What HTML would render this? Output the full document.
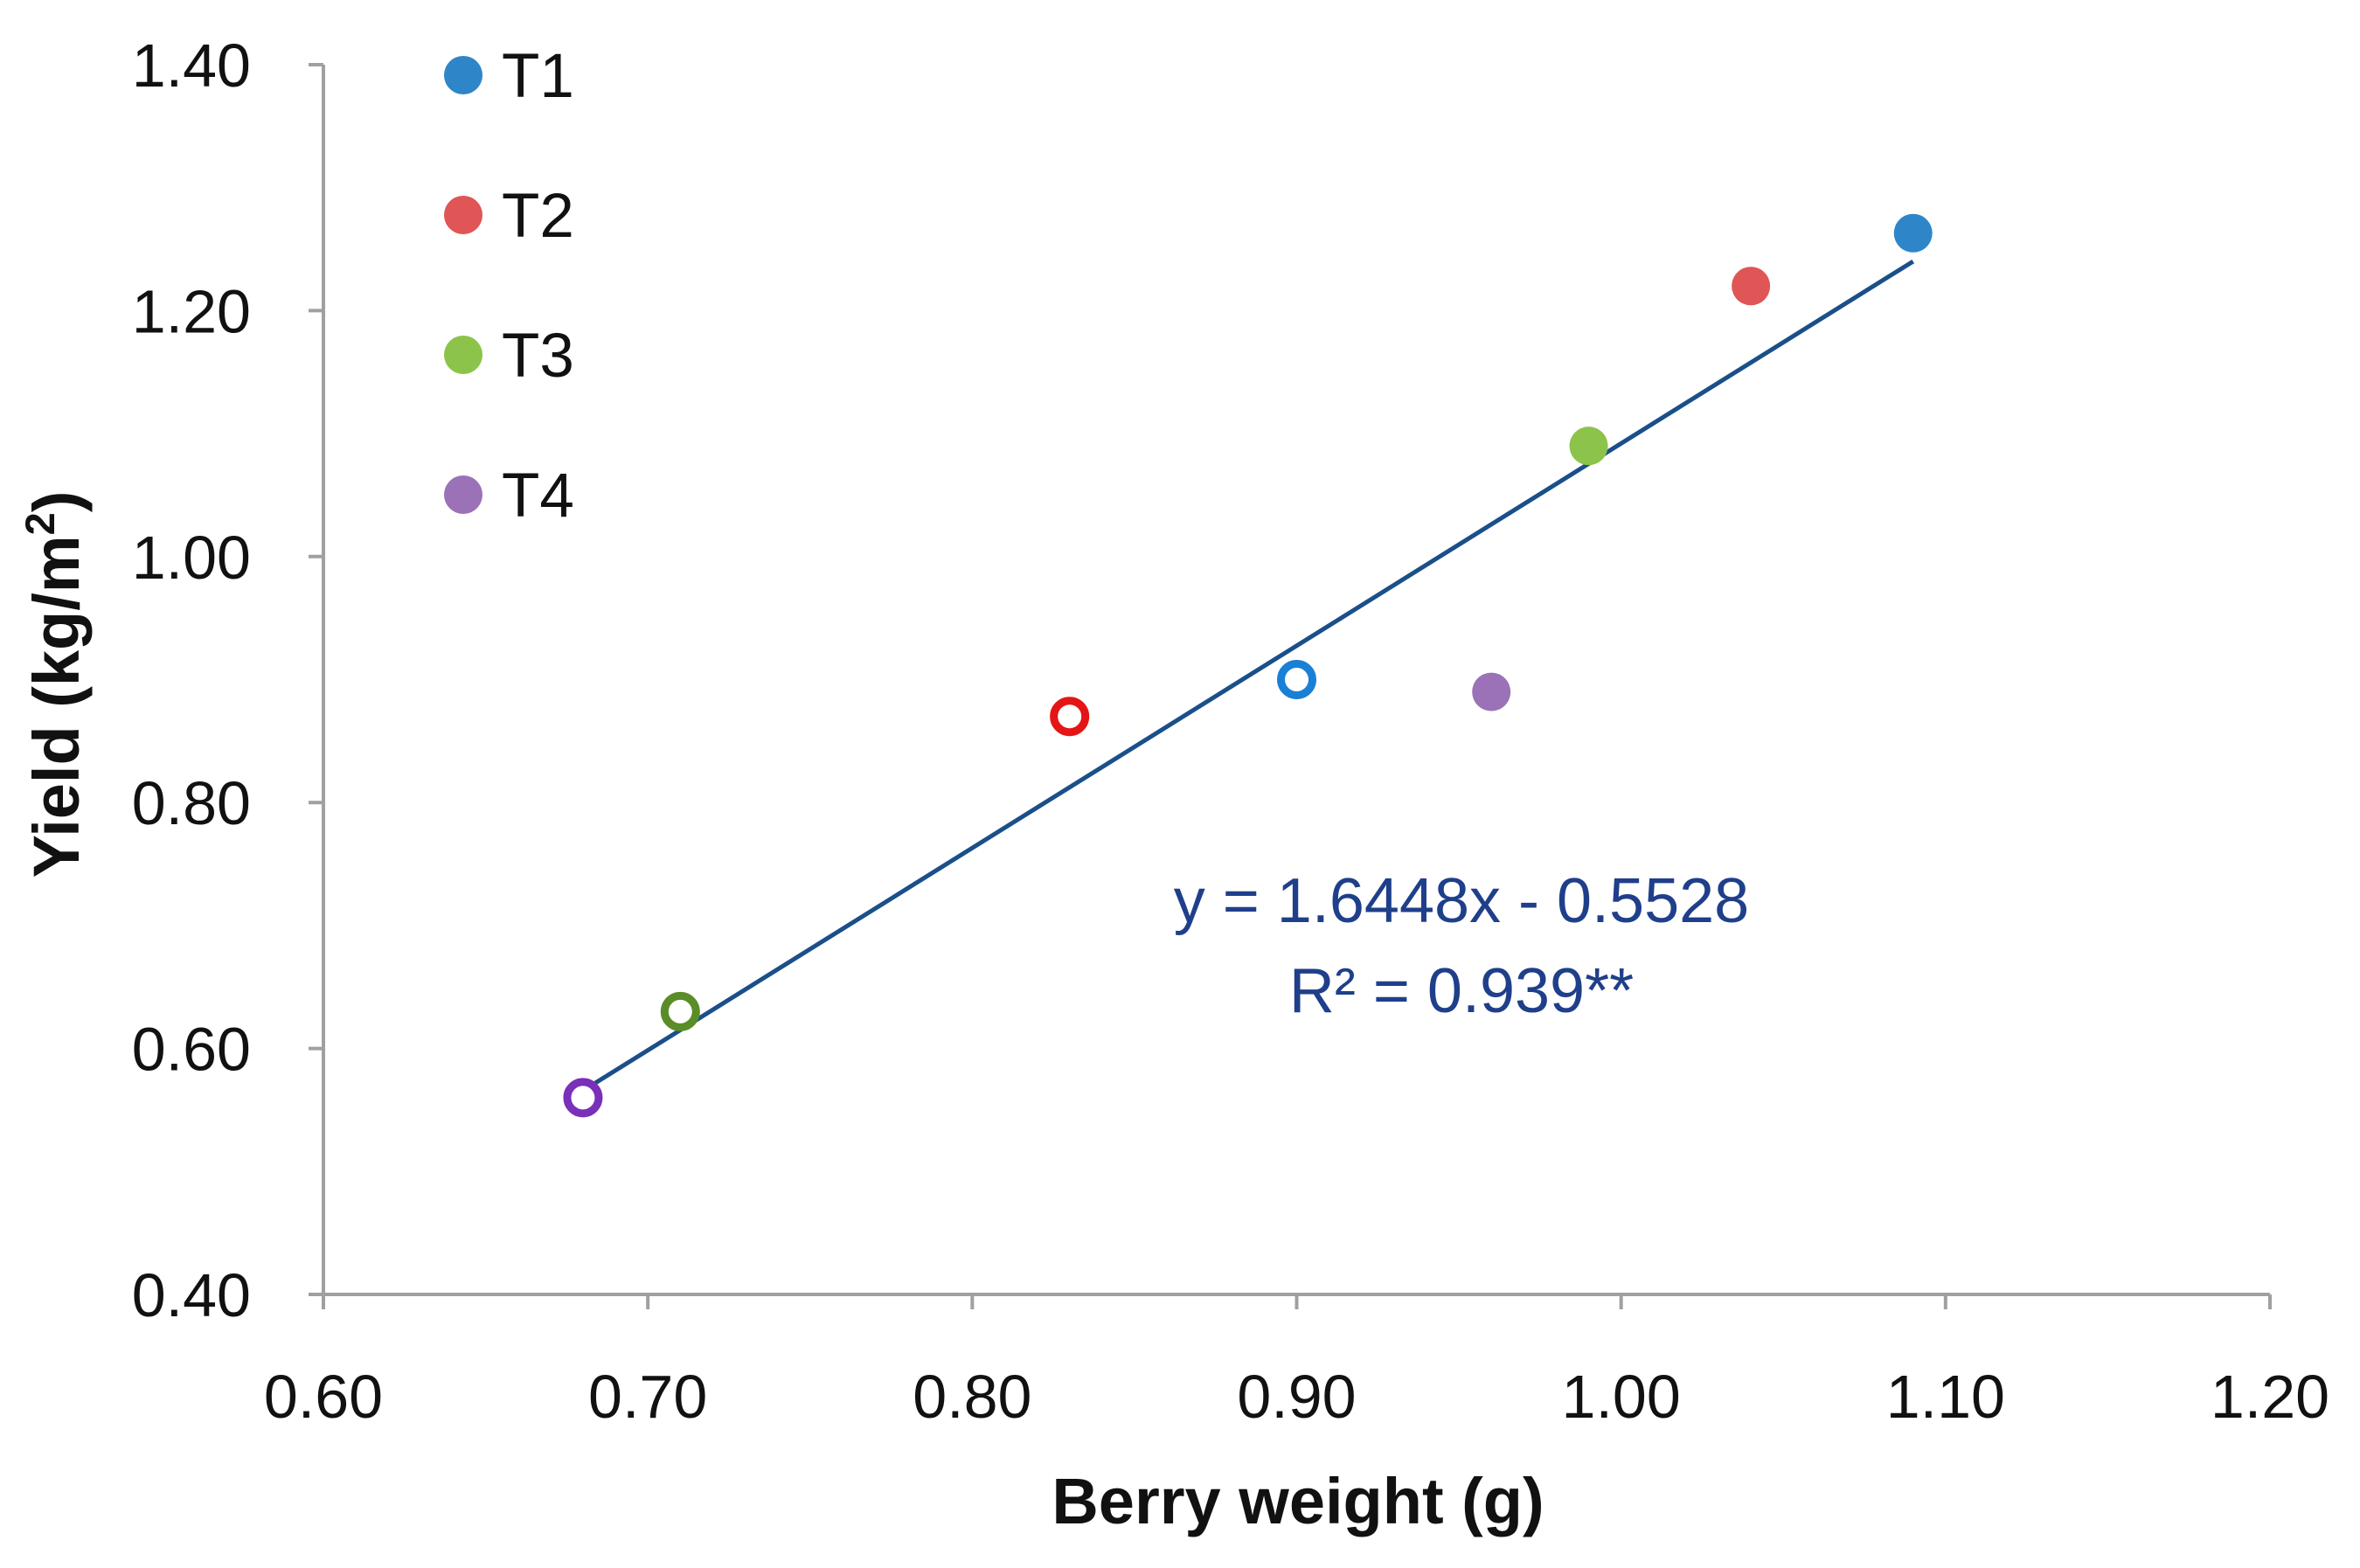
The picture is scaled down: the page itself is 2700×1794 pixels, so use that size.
<!DOCTYPE html>
<html><head><meta charset="utf-8"><style>
html,body{margin:0;padding:0;background:#fff}
svg{display:block;font-family:"Liberation Sans",sans-serif}
</style></head><body>
<svg id="chart" width="2700" height="1794" viewBox="0 0 2700 1794">
<g id="axes"></g>
<g id="marks"></g>
<g id="legend"></g>
<text x="1485" y="1743" text-anchor="middle" font-size="74" font-weight="bold" fill="#111">Berry weight (g)</text>
<text transform="translate(90,783) rotate(-90)" text-anchor="middle" font-size="74" font-weight="bold" fill="#111">Yield (kg/m<tspan font-size="47" dy="-28">2</tspan><tspan dy="28">)</tspan></text>
<text x="1672" y="1055" text-anchor="middle" font-size="72" fill="#1f3f8a">y = 1.6448x - 0.5528</text>
<text x="1672" y="1158" text-anchor="middle" font-size="72" fill="#1f3f8a">R² = 0.939**</text>
</svg>
<script>
const xTicks=[0.60,0.70,0.80,0.90,1.00,1.10,1.20];
const yTicks=[0.40,0.60,0.80,1.00,1.20,1.40];
const seriesNames=["T1","T2","T3","T4"];
const filledX=[1.09,1.04,0.99,0.96];
const filledY=[1.263,1.22,1.09,0.89];
const openX=[0.90,0.83,0.71,0.68];
const openY=[0.90,0.87,0.63,0.56];
const slope=1.6448, intercept=-0.5528;
const fitRange=[0.68,1.09];
const fillColors=["#2e86c8","#e05555","#8cc34a","#9b72b8"];
const ringColors=["#1a80d6","#e51515","#5a8c28","#7a30b8"];

const L=370,R=2597,T=74,B=1481;
const sx=v=>L+(v-0.6)/(1.2-0.6)*(R-L);
const sy=v=>B-(v-0.4)/(1.4-0.4)*(B-T);
const NS="http://www.w3.org/2000/svg";
function mk(tag,attrs,parent){const e=document.createElementNS(NS,tag);for(const k in attrs)e.setAttribute(k,attrs[k]);parent.appendChild(e);return e;}
const axes=document.getElementById('axes'),marks=document.getElementById('marks'),legend=document.getElementById('legend');
let e=mk('line',{x1:L,y1:T,x2:L,y2:B,stroke:'#a0a0a0','stroke-width':4},axes);


e=mk('line',{x1:L,y1:B,x2:R,y2:B,stroke:'#a0a0a0','stroke-width':4},axes);


xTicks.forEach(v=>{
 const x=sx(v);
 let t=mk('line',{x1:x,y1:B,x2:x,y2:B+17,stroke:'#a0a0a0','stroke-width':4},axes);
 
 
 let l=mk('text',{x:x,y:1622,'text-anchor':'middle','font-size':70,fill:'#111'},axes);
 l.textContent=v.toFixed(2);
 
 
});
yTicks.forEach(v=>{
 const y=sy(v);
 let t=mk('line',{x1:L-17,y1:y,x2:L,y2:y,stroke:'#a0a0a0','stroke-width':4},axes);
 
 
 let l=mk('text',{x:287,y:y+25,'text-anchor':'end','font-size':70,fill:'#111'},axes);
 l.textContent=v.toFixed(2);
 
 
});
e=mk('line',{x1:sx(fitRange[0]),y1:sy(slope*fitRange[0]+intercept),x2:sx(fitRange[1]),y2:sy(slope*fitRange[1]+intercept),stroke:'#1a4f8a','stroke-width':5},marks);


seriesNames.forEach((n,i)=>{
 let c=mk('circle',{cx:sx(filledX[i]),cy:sy(filledY[i]),r:22,fill:fillColors[i]},marks);
 
 
 let o=mk('circle',{cx:sx(openX[i]),cy:sy(openY[i]),r:18,fill:'#fff',stroke:ringColors[i],'stroke-width':9},marks);
 
 
 const ly=86+i*160;
 let lc=mk('circle',{cx:530,cy:ly,r:22,fill:fillColors[i]},legend);
 
 
 let lt=mk('text',{x:574,y:ly+25,'font-size':71,fill:'#111'},legend);
 lt.textContent=n;
 
 
});
</script>
</body></html>
